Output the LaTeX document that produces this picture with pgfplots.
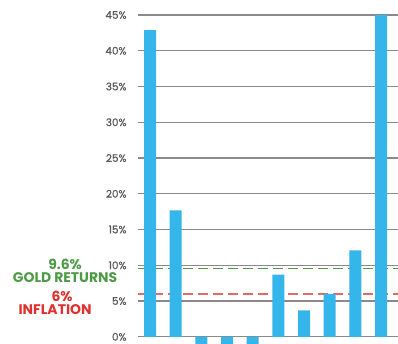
\documentclass[border=0pt]{standalone}
\usepackage{fontspec}
\setmainfont{Poppins}
\newfontfamily\tickfont[FakeBold=0.8]{Poppins}
\usepackage{pgfplots}
\pgfplotsset{compat=1.18}
\definecolor{barblue}{HTML}{35B6EA}
\definecolor{gridgray}{HTML}{8A8A8A}
\definecolor{goldgreen}{HTML}{4E9A47}
\definecolor{inflred}{HTML}{E0312E}
\definecolor{dashred}{HTML}{E06A66}
\definecolor{lblgray}{HTML}{5A5A5A}
\begin{document}
\begin{tikzpicture}
\path[use as bounding box] (-138bp,0) rectangle (260bp,344bp);
\begin{axis}[
  at={(0,0)}, anchor=south west,
  scale only axis, width=260bp, height=344bp,
  xmin=-0.47, xmax=9.66, ymin=-1, ymax=47.1,
  axis line style={draw=none},
  xtick=\empty,
  ytick={0,5,...,45},
  ymajorgrids, grid style={gridgray, line width=1.3bp},
  major tick length=0,
  yticklabel style={font=\tickfont\fontsize{10.5}{12}\selectfont, text=lblgray, xshift=-8bp},
  yticklabel={\pgfmathprintnumber{\tick}\%},
  /pgf/number format/assume math mode=true,
  clip mode=individual,
]
\addplot[goldgreen, line width=1.2bp, dash pattern=on 10bp off 5bp] coordinates {(-0.47,9.6) (9.66,9.6)};
\addplot[dashred, line width=1.2bp, dash pattern=on 10bp off 5bp] coordinates {(-0.47,6) (9.66,6)};
\addplot[ybar, fill=barblue, draw=none, bar width=12bp] coordinates {
 (0,42.9) (1,17.7) (2,-2) (3,-2) (4,-2) (5,8.7) (6,3.7) (7,6.0) (8,12.1) (9,45)};
\begin{scope}[every node/.style={inner sep=0pt, font=\fontsize{14}{16}\selectfont\bfseries}]
\node[text=goldgreen] at (axis cs:-3.31,10.15) {9.6\%};
\node[text=goldgreen] at (axis cs:-3.31,8.35) {GOLD RETURNS};
\node[text=inflred] at (axis cs:-3.43,5.65) {6\%};
\node[text=inflred] at (axis cs:-3.7,3.85) {INFLATION};
\end{scope}
\end{axis}
\end{tikzpicture}
\end{document}
